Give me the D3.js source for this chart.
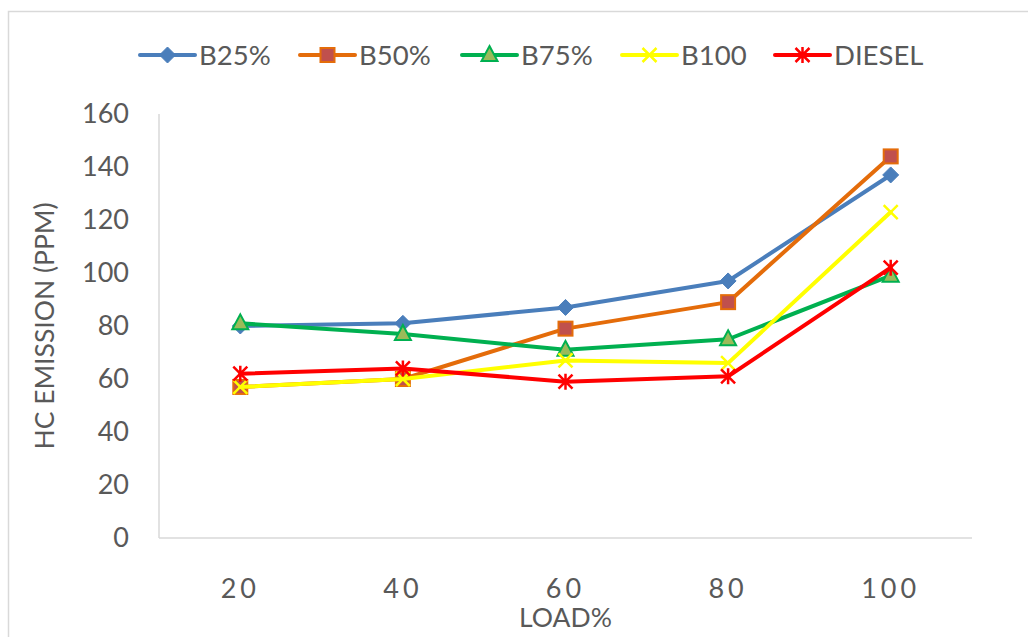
<!DOCTYPE html>
<html>
<head>
<meta charset="utf-8">
<script src="https://cdn.jsdelivr.net/npm/d3@7"></script>
<style>
  html, body { margin: 0; padding: 0; background: #fff; }
  svg { display: block; }
  text { font-family: Lato, "Open Sans", sans-serif; fill: #595959; }
</style>
</head>
<body>
<svg id="chart" width="1028" height="637"></svg>
<script>
// Engine load steps (%)
const loads = ["20", "40", "60", "80", "100"];

// HC emission (ppm) per fuel blend
const b25 = [80, 81, 87, 97, 137];
const b50 = [57, 60, 79, 89, 144];
const b75 = [81, 77, 71, 75, 99];
const b100 = [57, 60, 67, 66, 123];
const diesel = [62, 64, 59, 61, 102];

const yTicks = [0, 20, 40, 60, 80, 100, 120, 140, 160];

const seriesNames = ["B25%", "B50%", "B75%", "B100", "DIESEL"];
const seriesValues = [b25, b50, b75, b100, diesel];

const styles = {
  "B25%":  { line: "#4a7ebb", marker: "diamond",  fill: "#4a7ebb", stroke: "#4a7ebb" },
  "B50%":  { line: "#e46c0a", marker: "square",   fill: "#c0504d", stroke: "#e46c0a" },
  "B75%":  { line: "#00b050", marker: "triangle", fill: "#9bbb59", stroke: "#00b050" },
  "B100":  { line: "#ffff00", marker: "x",        fill: "none",    stroke: "#ffff00" },
  "DIESEL":{ line: "#ff0000", marker: "star",     fill: "none",    stroke: "#ff0000" }
};

const svg = d3.select("#chart");

// chart frame
svg.append("rect")
  .attr("x", 8.5).attr("y", 11.5)
  .attr("width", 1040).attr("height", 660)
  .attr("fill", "none").attr("stroke", "#d9d9d9").attr("stroke-width", 1.5);

const plot = { left: 159, right: 972, top: 114, bottom: 538 };

const x = d3.scaleBand().domain(loads).range([plot.left, plot.right]);
const cx = d => x(d) + x.bandwidth() / 2;
const y = d3.scaleLinear().domain([0, 160]).range([plot.bottom, plot.top]);

// axes lines
svg.append("line")
  .attr("x1", plot.left).attr("x2", plot.left)
  .attr("y1", plot.top).attr("y2", plot.bottom)
  .attr("stroke", "#d9d9d9").attr("stroke-width", 1.5);
svg.append("line")
  .attr("x1", plot.left).attr("x2", plot.right)
  .attr("y1", plot.bottom).attr("y2", plot.bottom)
  .attr("stroke", "#d9d9d9").attr("stroke-width", 1.5);

// y tick labels
svg.append("g").selectAll("text").data(yTicks).join("text")
  .attr("x", 129).attr("y", d => y(d))
  .attr("dy", "0.35em")
  .attr("text-anchor", "end")
  .attr("font-size", 27)
  .text(d => d);

// x tick labels
svg.append("g").selectAll("text").data(loads).join("text")
  .attr("x", d => cx(d)).attr("y", 589)
  .attr("dy", "0.35em")
  .attr("text-anchor", "middle")
  .attr("font-size", 27)
  .attr("letter-spacing", 4)
  .text(d => d);

// axis titles
svg.append("text")
  .attr("transform", `translate(45,${(plot.top + plot.bottom) / 2}) rotate(-90)`)
  .attr("text-anchor", "middle").attr("dy", "0.35em")
  .attr("font-size", 26.5)
  .text("HC EMISSION (PPM)");
svg.append("text")
  .attr("x", cx("60")).attr("y", 618)
  .attr("text-anchor", "middle").attr("dy", "0.35em")
  .attr("font-size", 26.5)
  .text("LOAD%");

function drawMarker(g, type, st, size) {
  const h = size / 2;
  if (type === "diamond") {
    g.append("path").attr("d", `M0,${-h}L${h},0L0,${h}L${-h},0Z`)
      .attr("fill", st.fill).attr("stroke", st.stroke).attr("stroke-width", 1);
  } else if (type === "square") {
    g.append("rect").attr("x", -h + 1).attr("y", -h + 1)
      .attr("width", size - 2).attr("height", size - 2)
      .attr("fill", st.fill).attr("stroke", st.stroke).attr("stroke-width", 2);
  } else if (type === "triangle") {
    g.append("path").attr("d", `M0,${-h - 1}L${h},${h - 2}L${-h},${h - 2}Z`)
      .attr("fill", st.fill).attr("stroke", st.stroke).attr("stroke-width", 2);
  } else if (type === "x") {
    const r = h - 1;
    g.append("path").attr("d", `M${-r},${-r}L${r},${r}M${-r},${r}L${r},${-r}`)
      .attr("stroke", st.stroke).attr("stroke-width", 2.5).attr("fill", "none");
  } else if (type === "star") {
    const r = h - 1;
    g.append("path").attr("d", `M${-r},${-r}L${r},${r}M${-r},${r}L${r},${-r}M0,${-h}L0,${h}`)
      .attr("stroke", st.stroke).attr("stroke-width", 2.5).attr("fill", "none");
  }
}

const line = d3.line().x(d => cx(d.load)).y(d => y(d.v));

seriesNames.forEach((name, i) => {
  const st = styles[name];
  const pts = loads.map((l, j) => ({ load: l, v: seriesValues[i][j] }));
  const g = svg.append("g");
  g.append("path").datum(pts)
    .attr("d", line)
    .attr("fill", "none")
    .attr("stroke", st.line)
    .attr("stroke-width", 4)
    .attr("stroke-linejoin", "round")
    .attr("stroke-linecap", "round");
  pts.forEach(p => {
    const mg = g.append("g").attr("transform", `translate(${cx(p.load)},${y(p.v)})`);
    drawMarker(mg, st.marker, st, 16);
  });
});

// legend
const legendX = [140, 300, 462, 622, 775];
const legendY = 55;
seriesNames.forEach((name, i) => {
  const st = styles[name];
  const g = svg.append("g").attr("transform", `translate(${legendX[i]},${legendY})`);
  g.append("line").attr("x1", 0).attr("x2", 55).attr("y1", 0).attr("y2", 0)
    .attr("stroke", st.line).attr("stroke-width", 4).attr("stroke-linecap", "round");
  const mg = g.append("g").attr("transform", "translate(27.5,0)");
  drawMarker(mg, st.marker, st, 16);
  g.append("text").attr("x", 59).attr("y", 0).attr("dy", "0.35em")
    .attr("font-size", 27.5)
    .text(name);
});
</script>
</body>
</html>
